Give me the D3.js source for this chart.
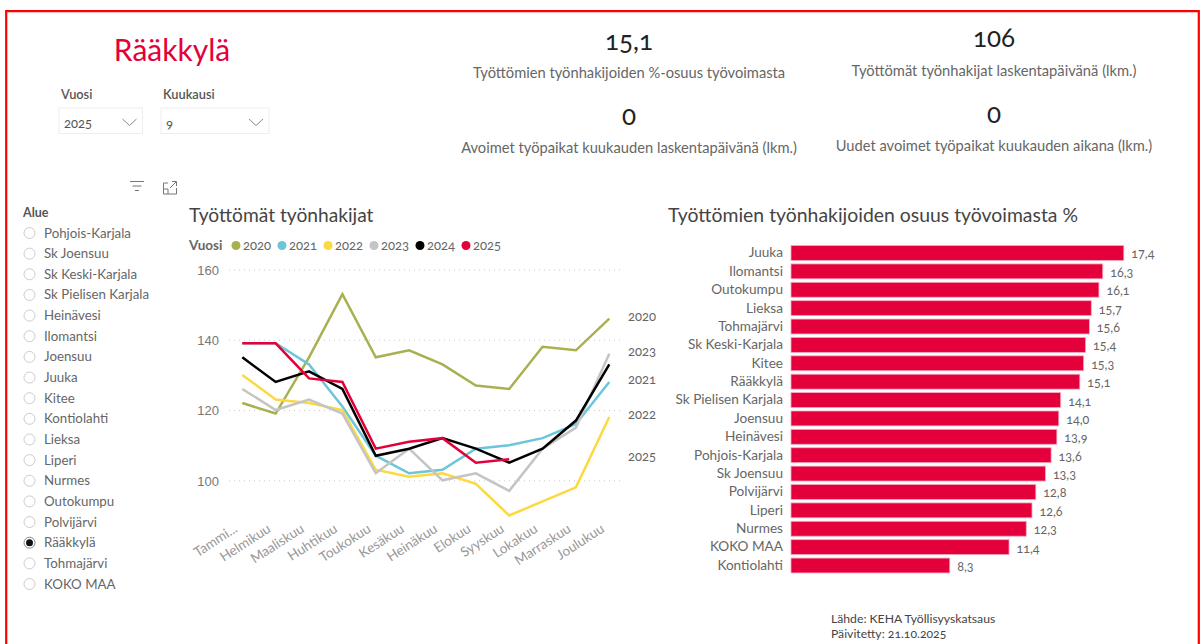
<!DOCTYPE html>
<html><head><meta charset="utf-8">
<script src="https://cdn.jsdelivr.net/npm/d3@7/dist/d3.min.js"></script>
<style>
html,body{margin:0;padding:0;background:#fff;overflow:hidden}
svg{display:block}
text{font-family:Lato,"Open Sans",sans-serif;font-variant-numeric:oldstyle-nums;font-feature-settings:"onum" 1}
</style></head><body>
<svg id="c" width="1203" height="644"></svg>
<script>
const months=["Tammi...","Helmikuu","Maaliskuu","Huhtikuu","Toukokuu","Kesäkuu","Heinäkuu","Elokuu","Syyskuu","Lokakuu","Marraskuu","Joulukuu"];
const years=["2020","2021","2022","2023","2024","2025"];
const yearColors=["#a9b04f","#6cc5d9","#fdd93e","#c4c4c4","#000000","#e4003a"];
const v2020=[122,119,135,153,135,137,133,127,126,138,137,146];
const v2021=[139,139,133,121,107,102,103,109,110,112,116,128];
const v2022=[130,123,122,120,103,101,102,99,90,94,98,118];
const v2023=[126,120,123,119,102,109,100,102,97,109,115,136];
const v2024=[135,128,131,126,107,109,112,109,105,109,117,133];
const v2025=[139,139,129,128,109,111,112,105,106];
const lineTicks=[100,120,140,160];
const endLabelled=["2020","2021","2022","2023","2025"];
const areas=["Juuka","Ilomantsi","Outokumpu","Lieksa","Tohmajärvi","Sk Keski-Karjala","Kitee","Rääkkylä","Sk Pielisen Karjala","Joensuu","Heinävesi","Pohjois-Karjala","Sk Joensuu","Polvijärvi","Liperi","Nurmes","KOKO MAA","Kontiolahti"];
const shares=[17.4,16.3,16.1,15.7,15.6,15.4,15.3,15.1,14.1,14.0,13.9,13.6,13.3,12.8,12.6,12.3,11.4,8.3];
const radioItems=["Pohjois-Karjala","Sk Joensuu","Sk Keski-Karjala","Sk Pielisen Karjala","Heinävesi","Ilomantsi","Joensuu","Juuka","Kitee","Kontiolahti","Lieksa","Liperi","Nurmes","Outokumpu","Polvijärvi","Rääkkylä","Tohmajärvi","KOKO MAA"];
const selectedArea="Rääkkylä";
const kpis=[["15,1","Työttömien työnhakijoiden %-osuus työvoimasta"],["106","Työttömät työnhakijat laskentapäivänä (lkm.)"],["0","Avoimet työpaikat kuukauden laskentapäivänä (lkm.)"],["0","Uudet avoimet työpaikat kuukauden aikana (lkm.)"]];
const seriesValues=[v2020,v2021,v2022,v2023,v2024,v2025];

const svg=d3.select("#c");
// frame
svg.append("path").attr("d","M6.200,644V11.200H1198.800V644").attr("fill","none").attr("stroke","#fe0000").attr("stroke-width",2.200);

// title
svg.append("text").attr("x",172).attr("y",61).attr("text-anchor","middle").attr("font-size",30).attr("fill","#e4003a").text(selectedArea);

// slicers
function slicer(x,w,label,val){
  svg.append("text").attr("x",x+2).attr("y",99).attr("font-size",12.800).attr("font-weight",600).attr("fill","#555").text(label);
  svg.append("rect").attr("x",x).attr("y",108).attr("width",w).attr("height",25.500).attr("fill","#fff").attr("stroke","#eee");
  svg.append("text").attr("x",x+5).attr("y",128).attr("font-size",13).attr("fill","#555").text(val);
  svg.append("path").attr("d",`M${x+w-20},119l7,6.500l7,-6.500`).attr("fill","none").attr("stroke","#888");
}
slicer(59,83.500,"Vuosi","2025");
slicer(161,108,"Kuukausi","9");

// icons
svg.append("path").attr("d","M130,181.500H144M132.500,186H141.500M135,190.500H139").attr("stroke","#777").attr("fill","none");
svg.append("path").attr("d","M168,183H163.500V194H176.500V188M170,188L176,182M172,181.500H176.500V186M163.500,189H168V194").attr("stroke","#777").attr("fill","none");

// radios
svg.append("text").attr("x",23).attr("y",217).attr("font-size",12.500).attr("font-weight",700).attr("fill","#555").text("Alue");
const ry=d3.scalePoint().domain(radioItems).range([233,584]);
const r=svg.append("g").selectAll("g").data(radioItems).join("g").attr("transform",d=>`translate(0,${ry(d)})`);
r.append("circle").attr("cx",29.500).attr("cy",0).attr("r",5.500).attr("fill","#fff").attr("stroke",d=>d===selectedArea?"#888":"#ccc");
r.filter(d=>d===selectedArea).append("circle").attr("cx",29.500).attr("r",3.500).attr("fill","#111");
r.append("text").attr("x",44).attr("y",4.500).attr("font-size",13.300).attr("fill","#666").text(d=>d);

// KPIs
const kx=[629,994], ky=[[44,72.500],[41,71],[119,148],[117,146]];
kpis.forEach((k,i)=>{
  const x=kx[i%2];
  svg.append("text").attr("x",x).attr("y",ky[i][0]+6).attr("text-anchor","middle").attr("font-size",26).attr("fill","#222").text(k[0]);
  svg.append("text").attr("x",x).attr("y",ky[i][1]+5).attr("text-anchor","middle").attr("font-size",14.700).attr("fill","#666").text(k[1]);
});

// line chart
svg.append("text").attr("x",189).attr("y",222).attr("font-size",19.200).attr("fill","#444").text("Työttömät työnhakijat");
svg.append("text").attr("x",189).attr("y",250).attr("font-size",13.500).attr("font-weight",700).attr("fill","#666").text("Vuosi");
const lx=d3.scalePoint().domain(years).range([236,466]);
const leg=svg.append("g").selectAll("g").data(years).join("g").attr("transform",d=>`translate(${lx(d)},245.500)`);
leg.append("circle").attr("r",4.500).attr("fill",(d,i)=>yearColors[i]);
leg.append("text").attr("x",7).attr("y",4.500).attr("font-size",13).attr("fill","#666").text(d=>d);

const x=d3.scalePoint().domain(months).range([242.300,609.300]);
const y=d3.scaleLinear().domain([100,160]).range([480.300,269.500]);
const gy=svg.append("g").attr("transform","translate(229,0)").call(d3.axisLeft(y).tickValues(lineTicks).tickSize(-392).tickPadding(10));
gy.select(".domain").remove();
gy.selectAll("line").attr("stroke","#ccc").attr("stroke-dasharray","1 4");
gy.selectAll("text").attr("font-size",13).attr("fill","#777").attr("dy","0.38em").style("font-family","inherit");
const gx=svg.append("g").attr("transform","translate(0,520)").call(d3.axisBottom(x).tickSize(0).tickPadding(0));
gx.select(".domain").remove();
gx.selectAll("text").attr("font-size",13.600).attr("fill","#999").attr("text-anchor","end").attr("dy",0).attr("y",0)
  .attr("transform","translate(-4.500,11) rotate(-33)");
const line=d3.line().x((d,i)=>x(months[i])).y(d=>y(d));
svg.append("g").selectAll("path").data(seriesValues).join("path").attr("d",line).attr("fill","none")
  .attr("stroke",(d,i)=>yearColors[i]).attr("stroke-width",2.500).attr("stroke-linejoin","miter");
svg.append("g").selectAll("text").data(endLabelled).join("text").attr("x",628)
  .attr("y",d=>{const s=seriesValues[years.indexOf(d)];return y(s[s.length-1])+2;})
  .attr("font-size",13).attr("fill","#666").text(d=>d);

// bars
svg.append("text").attr("x",668).attr("y",222).attr("font-size",19.400).attr("fill","#444").text("Työttömien työnhakijoiden osuus työvoimasta %");
const bx=d3.scaleLinear().domain([0,17.4]).range([791,1123.800]);
const by=d3.scaleBand().domain(areas).range([243.800,574.700]).paddingInner(0.19).paddingOuter(0.095);
const ga=svg.append("g").attr("transform","translate(791,0)").call(d3.axisLeft(by).tickSize(0).tickPadding(8));
ga.select(".domain").remove();
ga.selectAll("text").attr("font-size",13.600).attr("fill","#666");
svg.append("g").selectAll("rect").data(areas).join("rect").attr("x",bx(0)).attr("y",d=>by(d)).attr("height",by.bandwidth())
  .attr("width",(d,i)=>bx(shares[i])-bx(0)).attr("fill","#e4003a").attr("stroke","#f6a8bd").attr("stroke-width",0.800);
svg.append("g").selectAll("text").data(areas).join("text").attr("x",(d,i)=>bx(shares[i])+7.500)
  .attr("y",d=>by(d)+by.bandwidth()/2+5.500).attr("font-size",12.500).attr("fill","#666").text((d,i)=>shares[i].toFixed(1).replace(".",","));

// footer
svg.append("text").attr("x",831).attr("y",623).attr("font-size",12.200).attr("fill","#444").text("Lähde: KEHA Työllisyyskatsaus");
svg.append("text").attr("x",831).attr("y",638).attr("font-size",12.200).attr("fill","#444").text("Päivitetty: 21.10.2025");
</script>
</body></html>
